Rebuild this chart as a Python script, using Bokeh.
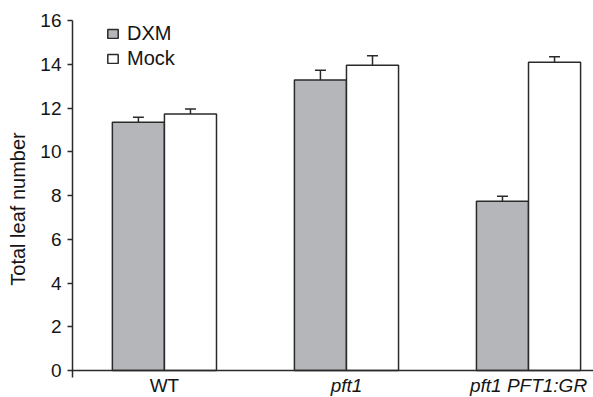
from bokeh.plotting import figure
from bokeh.models import (ColumnDataSource, Range1d, Span, Whisker, TeeHead,
                          Legend, LegendItem, LabelSet, FixedTicker)
from bokeh.transform import dodge
from bokeh.core.properties import field, value
from bokeh.embed import file_html
from bokeh.resources import INLINE

# Total leaf number per genotype, DXM-treated vs mock
genotypes = ["WT", "pft1", "pft1 PFT1:GR"]
label_styles = ["normal", "italic", "italic"]
dxm_mean = [11.35, 13.28, 7.74]
dxm_err = [0.23, 0.45, 0.23]
mock_mean = [11.73, 13.96, 14.09]
mock_err = [0.23, 0.43, 0.25]
y_ticks = [0, 2, 4, 6, 8, 10, 12, 14, 16]

FONT = "Liberation Sans"
INK = "#2a2a2a"
TXT = "#151515"
BAR_W = 0.286
Y_TOP = 16
AXIS_FLOOR = -0.32     # y axis line runs a little below zero
FRAME_FLOOR = -1.234   # frame reaches the bottom edge so the category names fit

pos = list(range(len(genotypes)))
src = ColumnDataSource(dict(
    x=pos,
    dxm=dxm_mean,
    dxm_top=[m + e for m, e in zip(dxm_mean, dxm_err)],
    mock=mock_mean,
    mock_top=[m + e for m, e in zip(mock_mean, mock_err)],
    name=genotypes,
    style=label_styles,
))

p = figure(width=593, height=397, output_backend="svg", toolbar_location=None,
           x_range=Range1d(-0.505, 2.357), y_range=Range1d(FRAME_FLOOR, Y_TOP),
           min_border_left=72, min_border_right=0, min_border_top=20,
           min_border_bottom=0)
p.outline_line_color = None
p.xgrid.visible = False
p.ygrid.visible = False
p.xaxis.visible = False

dxm_r = p.vbar(x=dodge("x", -BAR_W / 2, range=p.x_range), top="dxm", bottom=0,
               width=BAR_W, source=src, fill_color="#b5b6ba",
               line_color=INK, line_width=1.5)
mock_r = p.vbar(x=dodge("x", BAR_W / 2, range=p.x_range), top="mock", bottom=0,
                width=BAR_W, source=src, fill_color="white",
                line_color=INK, line_width=1.5)

for mean_col, top_col, off in (("dxm", "dxm_top", -BAR_W / 2),
                               ("mock", "mock_top", BAR_W / 2)):
    w = Whisker(base=dodge("x", off, range=p.x_range), lower=mean_col,
                upper=top_col, source=src, line_color=INK, line_width=1.5,
                lower_head=None,
                upper_head=TeeHead(size=11, line_color=INK, line_width=1.5))
    p.add_layout(w)

# baseline at zero
p.add_layout(Span(location=0, dimension="width", line_color=INK, line_width=1.5))

# category names under the baseline
labels = LabelSet(x="x", y=0, text="name", source=src, y_offset=-21,
                  text_align="center", text_baseline="alphabetic",
                  text_font=value(FONT), text_font_size=value("19px"),
                  text_color=TXT, text_font_style=field("style"))
p.add_layout(labels)

ax = p.yaxis[0]
ax.ticker = FixedTicker(ticks=y_ticks)
ax.bounds = (AXIS_FLOOR, Y_TOP)
ax.minor_tick_line_color = None
ax.major_tick_in = 0
ax.major_tick_out = 5
ax.major_tick_line_color = INK
ax.major_tick_line_width = 1.5
ax.axis_line_color = INK
ax.axis_line_width = 1.5
ax.major_label_text_font = FONT
ax.major_label_text_font_size = "19px"
ax.major_label_text_color = TXT
ax.major_label_standoff = 6
ax.axis_label = "Total leaf number"
ax.axis_label_text_font = FONT
ax.axis_label_text_font_size = "20px"
ax.axis_label_text_font_style = "normal"
ax.axis_label_text_color = TXT
ax.axis_label_standoff = 8

# legend top sits at the frame top
legend = Legend(items=[LegendItem(label="DXM", renderers=[dxm_r]),
                       LegendItem(label="Mock", renderers=[mock_r])],
                location=(34, 326), margin=0, padding=0, spacing=0,
                glyph_width=13, glyph_height=11, label_height=25,
                label_standoff=8, label_text_font=FONT,
                label_text_font_size="20px", label_text_color=TXT,
                border_line_color=None, background_fill_alpha=0)
p.add_layout(legend)

open("out.html", "w").write(file_html(p, INLINE))
